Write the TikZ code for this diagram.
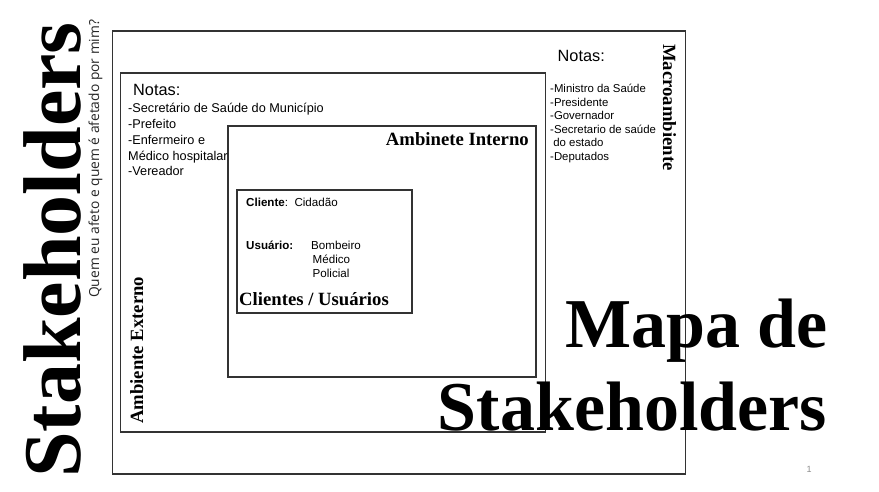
\documentclass[tikz,border=0pt]{standalone}
\usepackage{fontspec}
\setmainfont{Liberation Sans}
\newfontfamily\heavyfont{Liberation Serif}
\newfontfamily\subfont{Open Sans}
\usetikzlibrary{positioning}

\tikzset{
  frame/.style={draw=black!80, line width=1.4pt},
  heading/.style={font=\heavyfont\bfseries\fontsize{18.7}{18.7}\selectfont, inner sep=0pt},
  bigtitle/.style={font=\heavyfont\bfseries\fontsize{70}{70}\selectfont, inner sep=0pt},
  notes/.style={inner sep=0pt, anchor=base west},
}

\begin{document}
\begin{tikzpicture}[x=1pt,y=-1pt]
\useasboundingbox[fill=white] (0,0) rectangle (879,492);

% boxes
\coordinate (macroNW) at (112.5,31);   \coordinate (macroSE) at (685.5,474);
\coordinate (externoNW) at (120.5,73); \coordinate (externoSE) at (545.5,432);
\coordinate (internoNW) at (228,126);  \coordinate (internoSE) at (536,377);
\coordinate (clientesNW) at (237,190); \coordinate (clientesSE) at (412,313);

\draw[frame] (macroNW) rectangle (macroSE);
\draw[frame] (externoNW) rectangle (externoSE);
\draw[frame] (internoNW) rectangle (internoSE);
\draw[frame] (clientesNW) rectangle (clientesSE);

% side title
\node[font=\heavyfont\bfseries\fontsize{82}{82}\selectfont, inner sep=0pt,
      rotate=90, anchor=base west] (stk) at (80,478) {Stakeholders};
\node[font=\subfont\fontsize{13.8}{13.8}\selectfont, text=black!85, inner sep=0pt,
      rotate=90, anchor=base west] (quem) at (99,298) {Quem eu afeto e quem é afetado por mim?};

% macroambiente
\node[heading, rotate=-90, anchor=base west] (macro) at (663,44) {Macroambiente};
\node[notes, font=\fontsize{16.3}{16.3}\selectfont] (notasmacro) at (557.5,61.7) {Notas:};
\foreach \txt [count=\k from 0] in {-Ministro da Saúde, -Presidente, -Governador,
    -Secretario de saúde, {\ do estado}, -Deputados}
  \node[notes, font=\fontsize{11.4}{11.4}\selectfont] (macro\k) at (550,92.5+13.6*\k) {\txt};

% ambiente externo
\node[heading, rotate=90, anchor=base west] (externo) at (143,424) {Ambiente Externo};
\node[notes, font=\fontsize{16.3}{16.3}\selectfont] (notasext) at (133,96) {Notas:};
\foreach \txt [count=\k from 0] in {-Secretário de Saúde do Município, -Prefeito,
    -Enfermeiro e, Médico hospitalar, -Vereador}
  \node[notes, font=\fontsize{12.7}{12.7}\selectfont] (ext\k) at (128,113+15.7*\k) {\txt};

% ambiente interno
\node[heading, anchor=base east] (interno) at (529,146) {Ambinete Interno};

% clientes / usuarios
\node[notes, font=\fontsize{11.6}{11.6}\selectfont] (cliente) at (246,207) {\textbf{Cliente}:\ \ Cidadão};
\node[notes, font=\bfseries\fontsize{11.6}{11.6}\selectfont] (usuario) at (246,249) {Usuário:};
\node[notes, font=\fontsize{11.6}{11.6}\selectfont] (bombeiro) at (311,249) {Bombeiro};
\node[notes, font=\fontsize{11.6}{11.6}\selectfont] (medico) at (312.5,263.3) {Médico};
\node[notes, font=\fontsize{11.6}{11.6}\selectfont] (policial) at (312.5,277.7) {Policial};
\node[heading, anchor=base west] (clientes) at (239,305) {Clientes / Usuários};

% title
\node[bigtitle, anchor=base east] (mapa) at (828,347) {Mapa de};
\node[bigtitle, anchor=base east] (stkbig) at (827,430) {Stakeholders};

\node[font=\fontsize{9}{9}\selectfont, text=black!45, inner sep=0pt] (pagina) at (809,469.5) {1};
\end{tikzpicture}
\end{document}
